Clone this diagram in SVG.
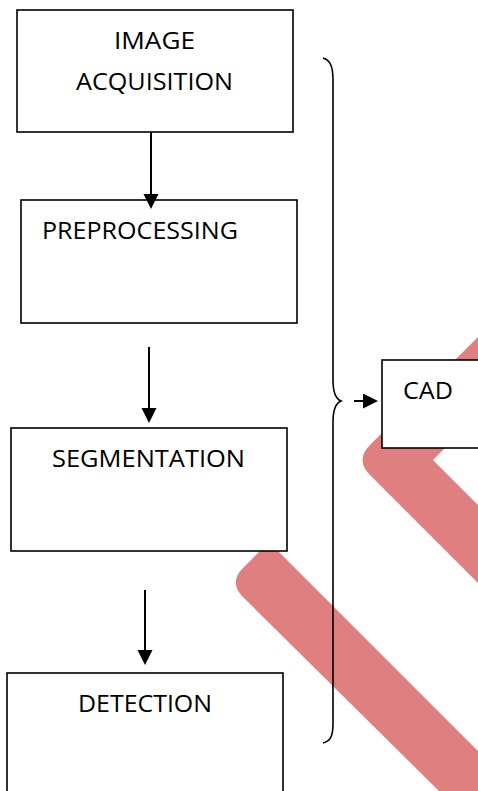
<svg xmlns="http://www.w3.org/2000/svg" width="478" height="791" viewBox="0 0 478 791">
<style>
.box{fill:#fff;stroke:#000;stroke-width:1.6}
.lbl{font-family:"Open Sans","Noto Sans","DejaVu Sans",sans-serif;font-size:23.5px;fill:#000}
.edge{stroke:#000;stroke-width:2;fill:none}
.mark{fill:#df7f7f;stroke:none}
</style>
<defs>
<marker id="ah" markerUnits="userSpaceOnUse" markerWidth="16" markerHeight="16" refX="8" refY="7.5" orient="auto">
<path d="M0,0 L15,7.5 L0,15 Z" fill="#000"/>
</marker>
</defs>
<rect width="478" height="791" fill="#fff"/>
<g id="watermark">
<path class="mark" d="M500,315 L370,445 Q355,460 370,475 L500,605 L500,527 L433,460 L500,393 Z"/>
<path class="mark" d="M262,549 L276,549 L520,793 L441,793 L243,597 Q228.5,582.5 243,568 Z"/>
</g>
<g id="image_acquisition">
<rect class="box" x="17" y="10" width="276" height="122"/>
<text class="lbl" x="114" y="49" textLength="81" lengthAdjust="spacingAndGlyphs">IMAGE</text>
<text class="lbl" x="76" y="90" textLength="157" lengthAdjust="spacingAndGlyphs">ACQUISITION</text>
</g>
<g id="preprocessing">
<rect class="box" x="21" y="200" width="276" height="123"/>
<text class="lbl" x="42" y="239" textLength="196" lengthAdjust="spacingAndGlyphs">PREPROCESSING</text>
</g>
<g id="segmentation">
<rect class="box" x="11" y="428" width="276" height="123"/>
<text class="lbl" x="52" y="467" textLength="193" lengthAdjust="spacingAndGlyphs">SEGMENTATION</text>
</g>
<g id="detection">
<rect class="box" x="7" y="673" width="276" height="130"/>
<text class="lbl" x="78" y="712" textLength="134" lengthAdjust="spacingAndGlyphs">DETECTION</text>
</g>
<g id="cad">
<rect class="box" x="382" y="360" width="110" height="88"/>
<text class="lbl" x="403" y="399" textLength="50" lengthAdjust="spacingAndGlyphs">CAD</text>
</g>
<g id="connectors">
<line class="edge" x1="151" y1="132" x2="151" y2="202" marker-end="url(#ah)"/>
<line class="edge" x1="149" y1="347" x2="149" y2="416" marker-end="url(#ah)"/>
<line class="edge" x1="145" y1="590" x2="145" y2="658" marker-end="url(#ah)"/>
<line class="edge" x1="354" y1="401" x2="371" y2="401" marker-end="url(#ah)"/>
<path class="edge" style="stroke-width:1.6" d="M323,58 C330,60 333,66 333,80 L333,380 C333,394 336,399 341,401 C336,403 333,408 333,422 L333,724 C333,737 330,741 323,743"/>
</g>
</svg>
